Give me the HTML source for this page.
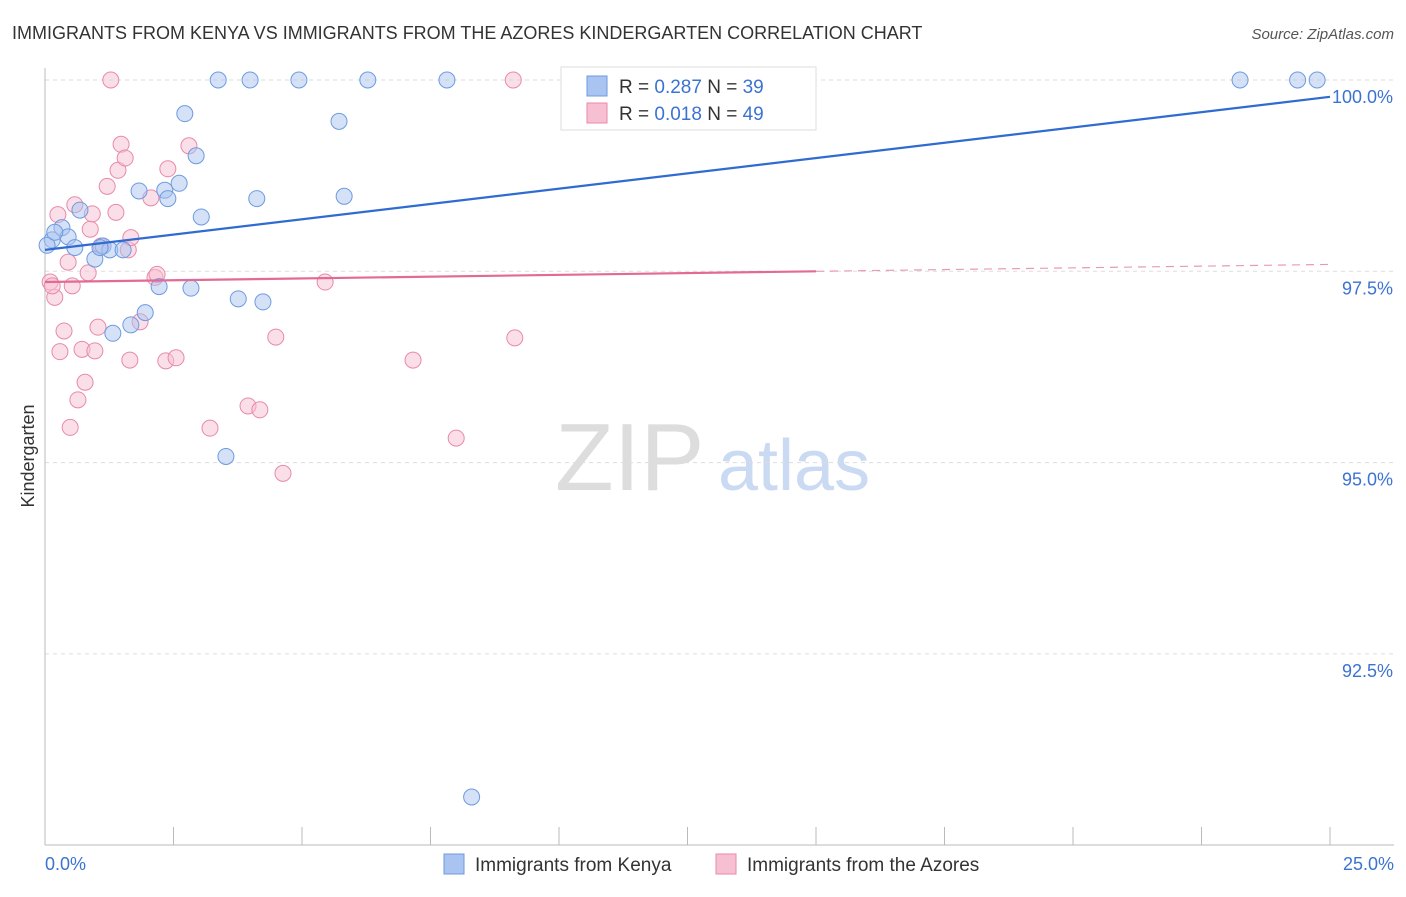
<!DOCTYPE html>
<html><head><meta charset="utf-8"><style>
body{margin:0;background:#fff;font-family:"Liberation Sans",sans-serif;}
svg text{font-family:"Liberation Sans",sans-serif;}
</style></head><body>
<svg id="chart" width="1406" height="892" xmlns="http://www.w3.org/2000/svg">
<text x="12" y="39" font-size="18" fill="#333">IMMIGRANTS FROM KENYA VS IMMIGRANTS FROM THE AZORES KINDERGARTEN CORRELATION CHART</text>
<text x="1394" y="39" font-size="15" fill="#555" text-anchor="end" font-style="italic">Source: ZipAtlas.com</text>
<text x="34" y="456" font-size="18" fill="#333" text-anchor="middle" transform="rotate(-90 34 456)">Kindergarten</text>
<g><text x="555" y="490" font-size="96" fill="#ddd" font-family="Liberation Serif">ZIP</text><text x="718" y="490" font-size="72" fill="#c9daf2">atlas</text></g>
<g id="grid"></g><g id="axes"></g><g id="marks"></g>
<g>
<rect x="561" y="67" width="255" height="63" fill="#fff" stroke="#ddd"/>
<rect x="587" y="76" width="20" height="20" fill="#a9c4f0" stroke="#6d9be0"/>
<rect x="587" y="103" width="20" height="20" fill="#f7c0d2" stroke="#e88aa8"/>
<text x="619" y="93" font-size="19" fill="#333">R = <tspan fill="#3b73d1">0.287</tspan>   N = <tspan fill="#3b73d1">39</tspan></text>
<text x="619" y="120" font-size="19" fill="#333">R = <tspan fill="#3b73d1">0.018</tspan>   N = <tspan fill="#3b73d1">49</tspan></text>
</g>
<g>
<rect x="444" y="854" width="20" height="20" fill="#a9c4f0" stroke="#6d9be0"/>
<text x="475" y="871" font-size="19" fill="#333">Immigrants from Kenya</text>
<rect x="716" y="854" width="20" height="20" fill="#f7c0d2" stroke="#e88aa8"/>
<text x="747" y="871" font-size="19" fill="#333">Immigrants from the Azores</text>
</g>
</svg>
<script>
const yTicks=[100,97.5,95,92.5];
const yTickLabels=["100.0%","97.5%","95.0%","92.5%"];
const kenyaX=[0.14,0.33,0.45,0.58,0.68,0.97,1.13,1.26,1.32,1.52,1.67,1.83,1.95,2.22,2.33,2.39,2.61,2.72,2.84,2.94,3.04,3.37,3.52,3.76,3.99,4.12,4.24,4.94,5.72,5.82,6.28,7.82,8.3,23.25,24.37,24.75,0.04,0.19,1.07];
const kenyaY=[97.91,98.07,97.95,97.81,98.3,97.66,97.83,97.78,96.69,97.78,96.8,98.55,96.96,97.3,98.56,98.45,98.65,99.56,97.28,99.01,98.21,100,95.08,97.14,100,98.45,97.1,100,99.46,98.48,100,100,90.63,100,100,100,97.84,98.01,97.81];
const azoresX=[0.1,0.19,0.14,0.25,0.29,0.37,0.45,0.53,0.49,0.58,0.64,0.72,0.78,0.84,0.88,0.92,0.97,1.03,1.09,1.21,1.28,1.38,1.42,1.48,1.56,1.62,1.65,1.67,1.85,2.06,2.14,2.18,2.35,2.39,2.55,2.8,3.21,3.95,4.18,4.49,4.63,5.45,7.16,8.0,9.11,9.14];
const azoresY=[97.36,97.16,97.31,98.24,96.45,96.72,97.62,97.31,95.46,98.37,95.82,96.48,96.05,97.48,98.05,98.25,96.46,96.77,97.83,98.61,100,98.27,98.82,99.16,98.98,97.78,96.34,97.94,96.84,98.46,97.42,97.46,96.33,98.84,96.37,99.14,95.45,95.74,95.69,96.64,94.86,97.36,96.34,95.32,100,96.63];
const kenyaLine=[[0,97.78],[25,99.78]];
const azoresLine=[[0,97.36],[15,97.5],[25,97.59]];
const xTickLabels=["0.0%","25.0%"];
const X0=45,X1=1330,Y0=80,PX=76.52;
function sx(v){return X0+(X1-X0)*v/25;}
function sy(v){return Y0+(100-v)*PX;}
const NS="http://www.w3.org/2000/svg";
function mk(parent,tag,attrs){const e=document.createElementNS(NS,tag);for(const k in attrs)e.setAttribute(k,attrs[k]);parent.appendChild(e);return e;}
const grid=document.getElementById('grid'),axes=document.getElementById('axes'),marks=document.getElementById('marks');
yTicks.forEach((t,i)=>{
 const l=mk(grid,'line',{x1:X0,x2:1394,y1:sy(t),y2:sy(t),stroke:'#ddd','stroke-dasharray':'4,4'});
 
 
 const tx=mk(axes,'text',{x:1393,y:sy(t)+23,'font-size':18,fill:'#3b73d1','text-anchor':'end'});
 tx.textContent=yTickLabels[i];
 
 
});
const ax=mk(axes,'line',{x1:X0,x2:1394,y1:845,y2:845,stroke:'#bbb'});


const ay=mk(axes,'line',{x1:X0,x2:X0,y1:68,y2:845,stroke:'#bbb'});


for(let i=1;i<=10;i++){const t=mk(axes,'line',{x1:sx(i*2.5),x2:sx(i*2.5),y1:827,y2:845,stroke:'#bbb'});
 
 }
[[0,'start',45],[25,'end',1394]].forEach((a,i)=>{const t=mk(axes,'text',{x:a[2],y:870,'font-size':18,fill:'#3b73d1','text-anchor':a[1]});t.textContent=xTickLabels[i];
 
 });
azoresX.forEach((x,i)=>{const c=mk(marks,'circle',{cx:sx(x),cy:sy(azoresY[i]),r:8,fill:'#f7c0d2','fill-opacity':0.5,stroke:'#e88aa8','stroke-width':1});
 
 });
kenyaX.forEach((x,i)=>{const c=mk(marks,'circle',{cx:sx(x),cy:sy(kenyaY[i]),r:8,fill:'#a9c4f0','fill-opacity':0.5,stroke:'#6d9be0','stroke-width':1});
 
 });
const kl=mk(marks,'line',{x1:sx(kenyaLine[0][0]),y1:sy(kenyaLine[0][1]),x2:sx(kenyaLine[1][0]),y2:sy(kenyaLine[1][1]),stroke:'#2f6bd0','stroke-width':2.2});


const al=mk(marks,'line',{x1:sx(azoresLine[0][0]),y1:sy(azoresLine[0][1]),x2:sx(azoresLine[1][0]),y2:sy(azoresLine[1][1]),stroke:'#e26a95','stroke-width':2.2});


const ad=mk(marks,'line',{x1:sx(azoresLine[1][0]),y1:sy(azoresLine[1][1]),x2:sx(azoresLine[2][0]),y2:sy(azoresLine[2][1]),stroke:'#e89ab5','stroke-width':1.2,'stroke-dasharray':'8,6'});


</script>
</body></html>
